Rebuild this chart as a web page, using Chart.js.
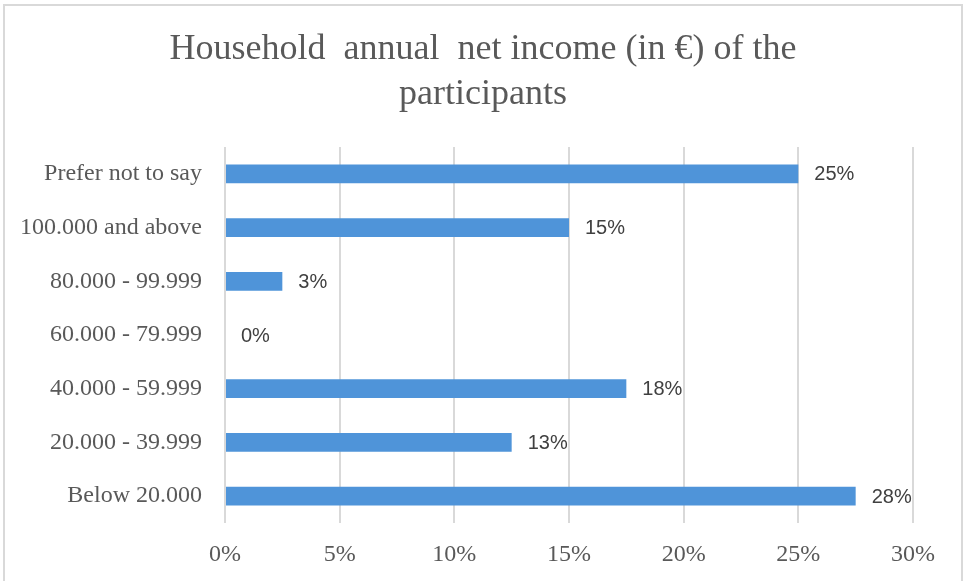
<!DOCTYPE html>
<html>
<head>
<meta charset="utf-8">
<script src="https://cdn.jsdelivr.net/npm/chart.js@4"></script>
<style>
  html, body { margin: 0; padding: 0; background: #fff; }
  body { width: 966px; height: 581px; position: relative; overflow: hidden; }
  .frame {
    position: absolute; left: 3px; top: 4px; width: 956px; height: 590px;
    border: 2px solid #d9d9d9; border-bottom: none;
  }
  #chart { position: absolute; left: 0; top: 0; }
</style>
</head>
<body>
<div class="frame"></div>
<canvas id="chart" width="966" height="581"></canvas>
<script>
// Income brackets, listed top to bottom as drawn
const categories = [
  "Prefer not to say",
  "100.000 and above",
  "80.000 - 99.999",
  "60.000 - 79.999",
  "40.000 - 59.999",
  "20.000 - 39.999",
  "Below 20.000"
]
// Share of participants in percent
const shares = [25, 15, 2.5, 0, 17.5, 12.5, 27.5]
const xTicks = [0, 5, 10, 15, 20, 25, 30]

const textGray = "#595959"
const serif = "'Liberation Serif', 'DejaVu Serif', serif"

// Writes the rounded percentage just right of each bar
const barLabels = {
  id: "barLabels",
  afterDatasetsDraw(chart) {
    const ctx = chart.ctx
    const meta = chart.getDatasetMeta(0)
    ctx.save()
    ctx.font = "20px 'Liberation Sans', Arial, sans-serif"
    ctx.fillStyle = "#404040"
    ctx.textAlign = "left"
    ctx.textBaseline = "middle"
    meta.data.forEach((bar, i) => {
      ctx.fillText(Math.round(shares[i]) + "%", bar.x + 16, bar.y + 1)
    })
    ctx.restore()
  }
}

// Centre the title on the frame rather than on the padded box
const titleShift = {
  id: "titleShift",
  afterLayout(chart) {
    chart.titleBlock.left = 53
  }
}

new Chart(document.getElementById("chart"), {
  type: "bar",
  data: {
    labels: categories,
    datasets: [{
      data: shares,
      backgroundColor: "#4f94d9",
      barPercentage: 0.35,
      categoryPercentage: 1
    }]
  },
  options: {
    indexAxis: "y",
    responsive: false,
    animation: false,
    layout: { padding: { left: 0, right: 53, top: 0, bottom: 0 } },
    plugins: {
      legend: { display: false },
      tooltip: { enabled: false },
      title: {
        display: true,
        text: ["Household  annual  net income (in €) of the", "participants"],
        color: textGray,
        font: { family: serif, size: 36, weight: "normal", lineHeight: 1.25 },
        padding: { top: 27, bottom: 30 }
      }
    },
    scales: {
      x: {
        min: 0,
        max: 30,
        afterBuildTicks(scale) {
          scale.ticks = xTicks.map(v => ({ value: v }))
        },
        afterFit(scale) { scale.height = 58 },
        ticks: {
          color: textGray,
          font: { family: serif, size: 24 },
          padding: 17,
          callback: v => v + "%"
        },
        grid: { color: "#d9d9d9", lineWidth: 2, drawTicks: false },
        border: { display: false }
      },
      y: {
        afterFit(scale) { scale.width = 225 },
        ticks: {
          color: textGray,
          font: { family: serif, size: 24 },
          padding: 23
        },
        grid: { display: false, drawTicks: false },
        border: { display: false }
      }
    }
  },
  plugins: [barLabels, titleShift]
})
</script>
</body>
</html>
